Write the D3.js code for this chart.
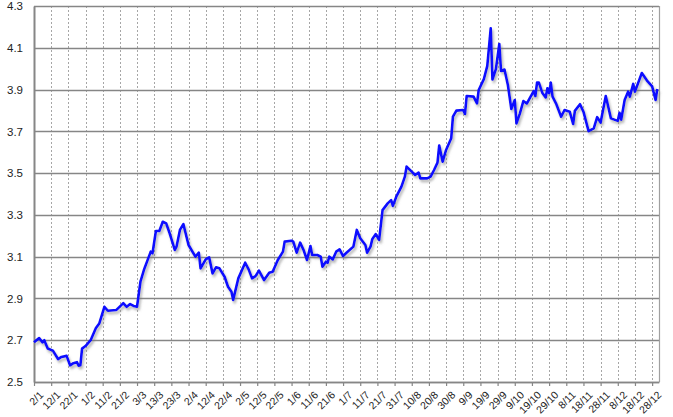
<!DOCTYPE html>
<html>
<head>
<meta charset="utf-8">
<script src="https://cdn.jsdelivr.net/npm/d3@7"></script>
<style>
  html, body { margin: 0; padding: 0; background: #ffffff; }
  svg { display: block; font-family: "Liberation Sans", Arial, sans-serif; }
</style>
</head>
<body>
<svg id="chart" width="673" height="417"></svg>
<script>
// ---- data ----
const year = 2011;
const dates = [
  "01-02","01-05","01-07","01-08","01-09","01-10","01-13","01-16","01-18","01-21",
  "01-23","01-25","01-27","01-28","01-29","01-30","02-01","02-04","02-07","02-09",
  "02-12","02-14","02-19","02-22","02-23","02-25","02-27","03-01","03-03","03-05",
  "03-07","03-11","03-12","03-14","03-16","03-18","03-20","03-22","03-25","03-26",
  "03-28","03-30","04-02","04-06","04-08","04-09","04-12","04-14","04-16","04-18",
  "04-20","04-23","04-25","04-27","04-28","05-01","05-05","05-07","05-09","05-11",
  "05-13","05-16","05-19","05-21","05-24","05-27","05-28","06-01","06-02","06-04",
  "06-06","06-08","06-10","06-12","06-13","06-16","06-18","06-19","06-21","06-22",
  "06-23","06-25","06-27","06-29","07-01","07-03","07-07","07-09","07-11","07-14",
  "07-15","07-17","07-18","07-20","07-22","07-24","07-27","07-29","07-30","08-01",
  "08-04","08-06","08-07","08-10","08-12","08-14","08-15","08-19","08-21","08-23",
  "08-25","08-26","08-28","08-30","09-02","09-03","09-05","09-09","09-10","09-11",
  "09-15","09-17","09-18","09-21","09-23","09-25","09-26","09-28","09-30","10-01",
  "10-03","10-05","10-07","10-09","10-10","10-12","10-14","10-16","10-20","10-21",
  "10-22","10-23","10-25","10-27","10-28","10-29","10-30","10-31","11-02","11-05",
  "11-07","11-10","11-12","11-13","11-16","11-18","11-21","11-24","11-26","11-28",
  "12-01","12-04","12-08","12-09","12-10","12-12","12-14","12-15","12-17","12-18",
  "12-22","12-25","12-28","12-30","12-31"
];
const values = [
  2.69,2.71,2.69,2.70,2.68,2.66,2.65,2.61,2.62,2.625,
  2.58,2.59,2.595,2.578,2.58,2.66,2.672,2.70,2.757,2.78,
  2.86,2.841,2.845,2.869,2.877,2.86,2.873,2.864,2.86,2.98,
  3.036,3.124,3.116,3.223,3.223,3.267,3.259,3.212,3.132,3.148,
  3.228,3.256,3.156,3.10,3.119,3.044,3.087,3.097,3.02,3.049,
  3.044,3.004,2.956,2.932,2.893,2.996,3.071,3.039,2.996,3.007,
  3.033,2.988,3.023,3.028,3.084,3.124,3.172,3.176,3.172,3.119,
  3.167,3.132,3.084,3.151,3.108,3.108,3.10,3.052,3.076,3.071,
  3.10,3.087,3.124,3.135,3.103,3.119,3.148,3.228,3.188,3.156,
  3.119,3.148,3.183,3.208,3.18,3.323,3.355,3.371,3.343,3.387,
  3.435,3.483,3.531,3.507,3.491,3.502,3.475,3.475,3.483,3.515,
  3.55,3.632,3.555,3.611,3.667,3.77,3.799,3.802,3.783,3.869,
  3.866,3.834,3.898,3.95,4.013,4.193,3.948,3.998,4.118,3.989,
  3.996,3.922,3.807,3.85,3.738,3.786,3.845,3.833,3.892,3.869,
  3.934,3.934,3.885,3.862,3.906,3.883,3.933,3.866,3.834,3.77,
  3.802,3.794,3.735,3.798,3.83,3.794,3.701,3.714,3.768,3.742,
  3.869,3.762,3.75,3.789,3.756,3.85,3.89,3.866,3.927,3.89,
  3.979,3.943,3.915,3.85,3.903
];
const xTickLabels = [
  "2/1","12/1","22/1","1/2","11/2","21/2","3/3","13/3","23/3","2/4","12/4","22/4",
  "2/5","12/5","22/5","1/6","11/6","21/6","1/7","11/7","21/7","31/7","10/8","20/8",
  "30/8","9/9","19/9","29/9","9/10","19/10","29/10","8/11","18/11","28/11","8/12",
  "18/12","28/12"
];
const yTicks = [2.5, 2.7, 2.9, 3.1, 3.3, 3.5, 3.7, 3.9, 4.1, 4.3];

// ---- chart ----
const svg = d3.select("#chart");
const plotL = 34, plotR = 659, plotT = 6, plotB = 382;

const parseMD = s => {
  const [m, d] = s.split("-").map(Number);
  return new Date(year, m - 1, d);
};
const parseLabel = s => {
  const [d, m] = s.split("/").map(Number);
  return new Date(year, m - 1, d);
};

const x = d3.scaleTime()
  .domain([new Date(year, 0, 2), new Date(year + 1, 0, 1)])
  .range([plotL, plotR]);
const y = d3.scaleLinear()
  .domain([d3.min(yTicks), d3.max(yTicks)])
  .range([plotB, plotT]);

const data = dates.map((d, i) => ({ date: parseMD(d), value: values[i] }));
const tickDates = xTickLabels.map(parseLabel);

// shadow filter
const defs = svg.append("defs");
const f = defs.append("filter").attr("id", "shadow")
  .attr("x", "-5%").attr("y", "-5%").attr("width", "110%").attr("height", "115%");
f.append("feDropShadow").attr("dx", 1.5).attr("dy", 2.5)
  .attr("stdDeviation", 1.2).attr("flood-color", "#777").attr("flood-opacity", 0.55);

// vertical dashed gridlines
svg.append("g").selectAll("line").data(tickDates).join("line")
  .attr("x1", d => Math.round(x(d)) + 0.5).attr("x2", d => Math.round(x(d)) + 0.5)
  .attr("y1", plotT).attr("y2", plotB)
  .attr("stroke", "#a6a6a6").attr("stroke-width", 1)
  .attr("stroke-dasharray", "2,2");

// horizontal gridlines
svg.append("g").selectAll("line").data(yTicks).join("line")
  .attr("x1", plotL).attr("x2", plotR)
  .attr("y1", d => Math.round(y(d)) + 0.5).attr("y2", d => Math.round(y(d)) + 0.5)
  .attr("stroke", "#868686").attr("stroke-width", 1.3);

// right border
svg.append("line")
  .attr("x1", plotR + 0.5).attr("x2", plotR + 0.5)
  .attr("y1", plotT).attr("y2", plotB)
  .attr("stroke", "#a0a0a0").attr("stroke-width", 1.2);

// y axis
const yAxis = d3.axisLeft(y).tickValues(yTicks).tickFormat(d3.format(".1f")).tickSize(0).tickPadding(11);
const gy = svg.append("g").attr("transform", `translate(${plotL},0)`).call(yAxis);
gy.select(".domain").attr("stroke", "#868686").attr("stroke-width", 2);
gy.selectAll("text").attr("font-size", "11.5px").attr("fill", "#222")
  .attr("font-family", "'Liberation Sans', Arial, sans-serif");

// x axis
const xAxis = d3.axisBottom(x).tickValues(tickDates).tickFormat((d, i) => xTickLabels[i])
  .tickSize(4).tickSizeOuter(0);
const gx = svg.append("g").attr("transform", `translate(0,${plotB})`).call(xAxis);
gx.select(".domain").attr("stroke", "#868686").attr("stroke-width", 1.5);
gx.selectAll(".tick line").attr("stroke", "#868686").attr("stroke-width", 1.2);
gx.selectAll("text")
  .attr("font-size", "10.5px").attr("fill", "#222")
  .attr("font-family", "'Liberation Sans', Arial, sans-serif")
  .attr("text-anchor", "end")
  .attr("dy", "0.35em")
  .attr("transform", "translate(2,6) rotate(-45)");

// line
const line = d3.line().x(d => x(d.date)).y(d => y(d.value));
svg.append("path").datum(data)
  .attr("d", line)
  .attr("fill", "none")
  .attr("stroke", "#0a0aff")
  .attr("stroke-width", 2.6)
  .attr("stroke-linejoin", "round")
  .attr("filter", "url(#shadow)");
</script>
</body>
</html>
